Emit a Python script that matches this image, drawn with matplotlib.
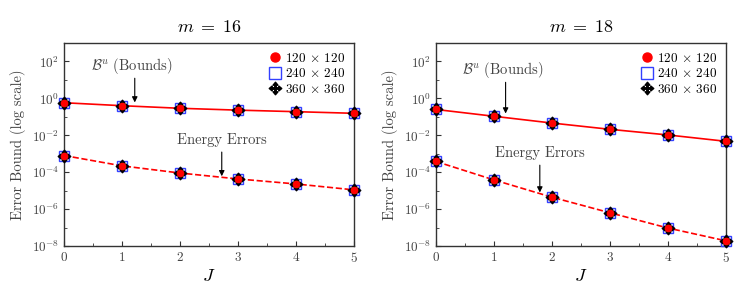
import numpy as np
import matplotlib
matplotlib.use("Agg")
import matplotlib.pyplot as plt
from matplotlib.path import Path

plt.rcParams['font.family'] = 'serif'
plt.rcParams['font.serif'] = ['cmr10']
plt.rcParams['mathtext.fontset'] = 'cm'
plt.rcParams['axes.formatter.use_mathtext'] = True

J = [0, 1, 2, 3, 4, 5]
titles = [r"$m\;=\;16$", r"$m\;=\;18$"]
bounds = [
    [0.58, 0.40, 0.29, 0.23, 0.19, 0.155],
    [0.25, 0.107, 0.046, 0.021, 0.0104, 0.0047],
]
energy = [
    [8.0e-4, 2.2e-4, 9.0e-5, 4.3e-5, 2.3e-5, 1.1e-5],
    [3.8e-4, 3.8e-5, 4.4e-6, 6.3e-7, 9.4e-8, 1.9e-8],
]
legend_labels = [r"120 $\times$ 120", r"240 $\times$ 240", r"360 $\times$ 360"]

# annotation layout (x in J units, y in log10 units)
bound_anno = [dict(x=1.22, tx=1.17, ty=1.75, y0=1.09, y1=-0.22),
              dict(x=1.2, tx=1.15, ty=1.53, y0=0.87, y1=-0.82)]
energy_anno = [dict(x=2.72, tx=2.72, ty=-2.26, y0=-2.91, y1=-4.22),
               dict(x=1.79, tx=1.79, ty=-2.97, y0=-3.62, y1=-5.1)]

# custom four-arrow marker
verts = [(0, 1), (0.38, 0.55), (0.12, 0.55), (0.12, 0.12), (0.55, 0.12), (0.55, 0.38),
         (1, 0), (0.55, -0.38), (0.55, -0.12), (0.12, -0.12), (0.12, -0.55), (0.38, -0.55),
         (0, -1), (-0.38, -0.55), (-0.12, -0.55), (-0.12, -0.12), (-0.55, -0.12), (-0.55, -0.38),
         (-1, 0), (-0.55, 0.38), (-0.55, 0.12), (-0.12, 0.12), (-0.12, 0.55), (-0.38, 0.55), (0, 1)]
codes = [Path.MOVETO] + [Path.LINETO] * (len(verts) - 2) + [Path.CLOSEPOLY]
arrow_marker = Path(verts, codes)

blue = '#3340ff'
fig = plt.figure(figsize=(7.47, 2.93), dpi=100)
W, H = 747, 293
lefts = [64, 436]
for k in range(2):
    ax = fig.add_axes([lefts[k] / W, 1 - 246 / H, 290 / W, (246 - 43) / H])
    for data, ls in [(bounds[k], '-'), (energy[k], '--')]:
        ax.plot(J, data, color='red', ls=ls, lw=1.2, zorder=2)
        ax.plot(J, data, ls='none', marker='s', ms=7.5, mfc='none', mec=blue, mew=1.0, zorder=3,
                clip_on=False)
        ax.plot(J, data, ls='none', marker=arrow_marker, ms=9, color='black', zorder=4, clip_on=False)
        ax.plot(J, data, ls='none', marker='o', ms=4.5, color='red', zorder=5, clip_on=False)
    ax.set_yscale('log')
    ax.set_ylim(1e-8, 1e3)
    ax.set_xlim(0, 5)
    ax.set_yticks([1e-8, 1e-6, 1e-4, 1e-2, 1e0, 1e2])
    ax.set_yticks([1e-7, 1e-5, 1e-3, 1e-1, 1e1], minor=True)
    ax.set_yticklabels([], minor=True)
    ax.set_xticks(J)
    ax.set_xticks([0.5, 1.5, 2.5, 3.5, 4.5], minor=True)
    ax.tick_params(which='both', direction='in', labelsize=9.5, colors='#333333', labelcolor='#444444')
    ax.tick_params(which='major', length=3.5)
    ax.tick_params(which='minor', length=2)
    for s in ax.spines.values():
        s.set_color('#333333')
        s.set_linewidth(1.0)
    ax.set_title(titles[k], fontsize=13, pad=8)
    ax.set_xlabel("$J$", fontsize=13, labelpad=2)
    ax.set_ylabel("Error Bound (log scale)", fontsize=10.5, color='#444444', labelpad=4)
    # legend proxies
    h1, = ax.plot([], [], ls='none', marker='o', ms=6.5, color='red')
    h2, = ax.plot([], [], ls='none', marker='s', ms=8.5, mfc='none', mec=blue, mew=1.0)
    h3, = ax.plot([], [], ls='none', marker=arrow_marker, ms=9, color='black')
    ax.legend([h1, h2, h3], legend_labels, loc='upper right', frameon=False, fontsize=9.5,
              handletextpad=0.3, labelspacing=0.2, borderaxespad=0.25, handlelength=1.0)
    # annotations
    for a, txt in [(bound_anno[k], r"$\mathcal{B}^u$ (Bounds)"), (energy_anno[k], "Energy Errors")]:
        ax.annotate("", xy=(a['x'], 10 ** a['y1']), xytext=(a['x'], 10 ** a['y0']),
                    arrowprops=dict(arrowstyle='-|>', color='black', lw=0.8, mutation_scale=8,
                                    shrinkA=0, shrinkB=0))
        ax.text(a['tx'], 10 ** a['ty'], txt, ha='center', va='center',
                fontsize=10.5, color='#444444')

fig.savefig("out.png", dpi=100)
